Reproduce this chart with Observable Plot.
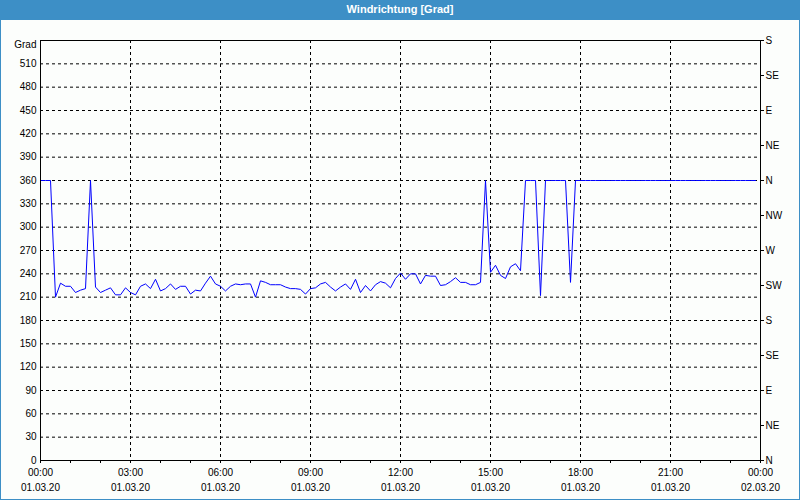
<!DOCTYPE html>
<html>
<head>
<meta charset="utf-8">
<script src="https://cdn.jsdelivr.net/npm/d3@7"></script>
<script src="https://cdn.jsdelivr.net/npm/@observablehq/plot@0.6"></script>
<style>
  html, body { margin: 0; padding: 0; background: #ffffff; }
  #wrap { position: relative; width: 800px; height: 500px; overflow: hidden; background: #fcfefc; }
  #title { position: absolute; left: 0; top: 0; width: 800px; height: 20px; background: #3d8fc6;
           color: #ffffff; font: bold 11px "Liberation Sans", "DejaVu Sans", sans-serif;
           line-height: 19px; text-align: center; }
  #chart { position: absolute; left: 0; top: 20px; }
  #border { position: absolute; left: 0; top: 0; width: 800px; height: 500px; box-sizing: border-box;
            border: 1px solid #3d8fc6; pointer-events: none; }
</style>
</head>
<body>
<div id="wrap">
  <div id="title">Windrichtung [Grad]</div>
  <div id="chart"></div>
  <div id="border"></div>
</div>
<script>
// ---- data ----
const startTime = "2020-03-01T00:00:00Z";
const endTime = "2020-03-02T00:00:00Z";
const stepMinutes = 10;
const direction = [
  360, 360, 360, 210, 228, 224, 224, 216, 219, 221,
  360, 223, 216, 219, 222, 213, 213, 222, 216, 213,
  224, 227, 221, 233, 218, 221, 227, 220, 224, 224,
  214, 219, 218, 228, 237, 227, 224, 218, 224, 227,
  226, 227, 227, 210, 231, 229, 226, 226, 226, 223,
  221, 221, 220, 214, 221, 222, 227, 229, 223, 218,
  223, 227, 220, 233, 216, 225, 218, 226, 230, 228,
  222, 234, 241, 233, 240, 240, 227, 238, 237, 237,
  225, 226, 230, 235, 229, 229, 226, 226, 229, 360,
  242, 251, 238, 234, 249, 253, 244, 360, 360, 360,
  212, 360, 360, 360, 360, 360, 229, 360, 360, 360,
  360, 360, 360, 360, 360, 360, 360, 360, 360, 360,
  360, 360, 360, 360, 360, 360, 360, 360, 360, 360,
  360, 360, 360, 360, 360, 360, 360, 360, 360, 360,
  360, 360, 360, 360
];
const yTicks = [0, 30, 60, 90, 120, 150, 180, 210, 240, 270, 300, 330, 360, 390, 420, 450, 480, 510];
const yGridValues = [30, 60, 90, 120, 150, 180, 210, 240, 270, 300, 330, 360, 390, 420, 450, 480, 510];
const yMax = 540;
const yUnitLabel = "Grad";
const compassValues = [0, 45, 90, 135, 180, 225, 270, 315, 360, 405, 450, 495, 540];
const compassLabels = ["N", "NE", "E", "SE", "S", "SW", "W", "NW", "N", "NE", "E", "SE", "S"];
const majorTickTimes = ["2020-03-01T00:00:00Z", "2020-03-01T03:00:00Z", "2020-03-01T06:00:00Z",
  "2020-03-01T09:00:00Z", "2020-03-01T12:00:00Z", "2020-03-01T15:00:00Z", "2020-03-01T18:00:00Z",
  "2020-03-01T21:00:00Z", "2020-03-02T00:00:00Z"];
const gridTimes = ["2020-03-01T03:00:00Z", "2020-03-01T06:00:00Z", "2020-03-01T09:00:00Z",
  "2020-03-01T12:00:00Z", "2020-03-01T15:00:00Z", "2020-03-01T18:00:00Z", "2020-03-01T21:00:00Z"];

// ---- build ----
const t0 = new Date(startTime);
const t1 = new Date(endTime);
const data = direction.map((v, i) => ({ time: d3.utcMinute.offset(t0, i * stepMinutes), dir: v }));
const majors = majorTickTimes.map(s => new Date(s));
const grids = gridTimes.map(s => new Date(s));
const hours = d3.utcHour.range(t0, d3.utcHour.offset(t1, 1));
const fmtTime = d3.utcFormat("%H:%M");
const fmtDate = d3.utcFormat("%d.%m.%y");

const chart = Plot.plot({
  width: 800,
  height: 480,
  marginLeft: 40,
  marginRight: 40,
  marginTop: 20,
  marginBottom: 40,
  style: { fontFamily: "'Liberation Sans', 'DejaVu Sans', sans-serif", fontSize: "10px", color: "#000", background: "transparent", overflow: "visible" },
  x: { type: "utc", domain: [t0, t1] },
  y: { domain: [0, yMax] },
  marks: [
    Plot.gridY(yGridValues, { stroke: "#000", strokeOpacity: 1, strokeDasharray: "3,3" }),
    Plot.gridX(grids, { stroke: "#000", strokeOpacity: 1, strokeDasharray: "3,3" }),
    Plot.line(data, { x: "time", y: "dir", stroke: "#0000ff", strokeWidth: 1 }),
    Plot.frame({ stroke: "#000", strokeWidth: 1 }),
    Plot.axisY(yTicks, { anchor: "left", tickSize: 0, tickPadding: 4, label: null }),
    Plot.text([yUnitLabel], { frameAnchor: "top-left", dx: -4, dy: 4, textAnchor: "end", lineAnchor: "middle", fill: "#000" }),
    Plot.axisY(compassValues, { anchor: "right", tickSize: 3, tickPadding: 2, tickFormat: (d, i) => compassLabels[i], label: null }),
    Plot.axisX(hours, { tickSize: 3, tickFormat: () => "", label: null }),
    Plot.axisX(majors, { tickSize: 0, tickPadding: 8, tickFormat: fmtTime, label: null }),
    Plot.axisX(majors, { tickSize: 0, tickPadding: 23, tickFormat: fmtDate, label: null })
  ]
});
document.getElementById("chart").appendChild(chart);
</script>
</body>
</html>
